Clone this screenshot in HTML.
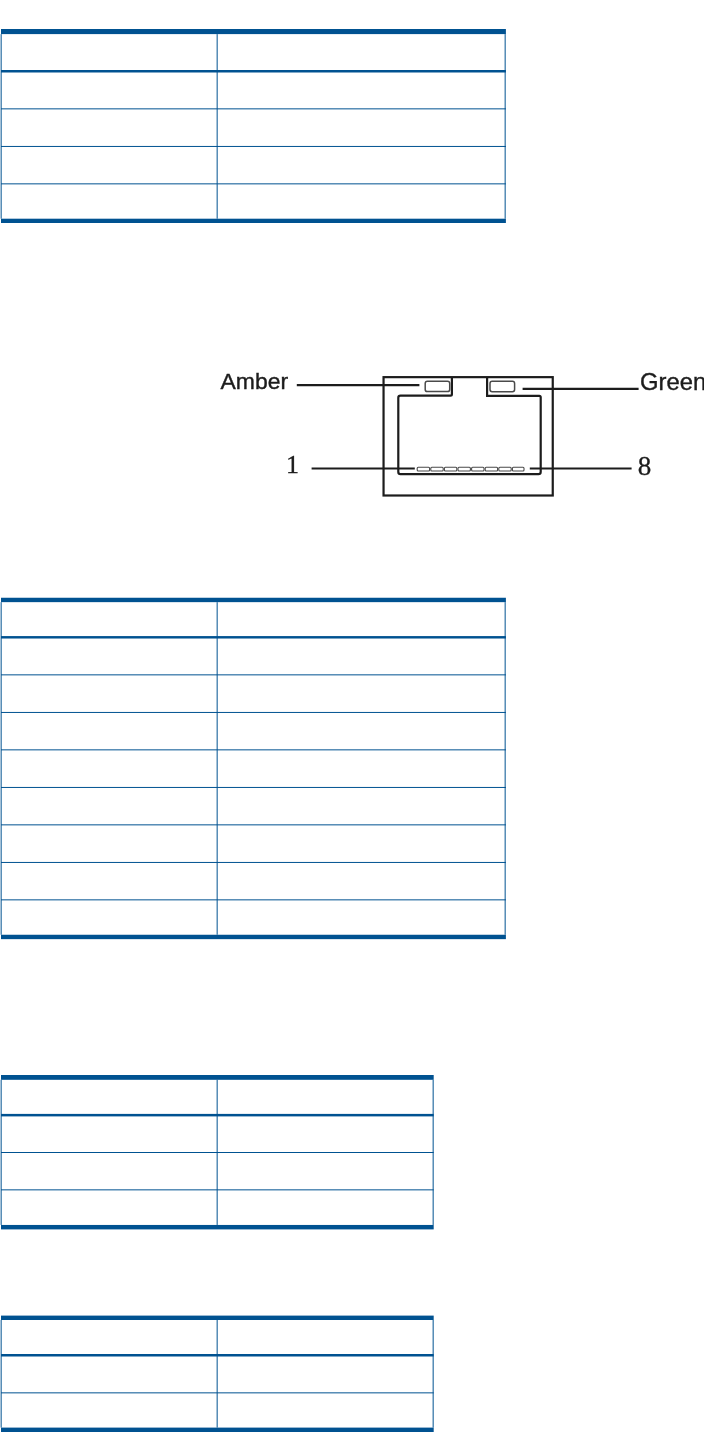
<!DOCTYPE html>
<html><head><meta charset="utf-8"><title>Page</title>
<style>
html,body{margin:0;padding:0;background:#fff;}
body{width:704px;height:1433px;overflow:hidden;font-family:"Liberation Sans",sans-serif;}
svg{display:block;}
</style></head>
<body>
<svg width="704" height="1433" viewBox="0 0 704 1433">
<rect x="1.0" y="29.0" width="504.9" height="5.1" fill="#005291"/>
<rect x="1.0" y="70.0" width="504.9" height="2.5" fill="#005291"/>
<rect x="1.0" y="108.35" width="504.9" height="1.0" fill="#005291"/>
<rect x="1.0" y="145.95" width="504.9" height="1.0" fill="#005291"/>
<rect x="1.0" y="183.35" width="504.9" height="1.0" fill="#005291"/>
<rect x="1.0" y="218.7" width="504.9" height="4.3" fill="#005291"/>
<rect x="0.65" y="34.1" width="1.0" height="184.6" fill="#005291"/>
<rect x="216.65" y="34.1" width="1.0" height="184.6" fill="#005291"/>
<rect x="504.65" y="34.1" width="1.0" height="184.6" fill="#005291"/>
<rect x="1.0" y="597.75" width="504.9" height="4.4" fill="#005291"/>
<rect x="1.0" y="636.075" width="504.9" height="2.45" fill="#005291"/>
<rect x="1.0" y="674.35" width="504.9" height="1.0" fill="#005291"/>
<rect x="1.0" y="711.95" width="504.9" height="1.0" fill="#005291"/>
<rect x="1.0" y="749.35" width="504.9" height="1.0" fill="#005291"/>
<rect x="1.0" y="786.95" width="504.9" height="1.0" fill="#005291"/>
<rect x="1.0" y="824.35" width="504.9" height="1.0" fill="#005291"/>
<rect x="1.0" y="861.95" width="504.9" height="1.0" fill="#005291"/>
<rect x="1.0" y="899.35" width="504.9" height="1.0" fill="#005291"/>
<rect x="1.0" y="934.75" width="504.9" height="4.4" fill="#005291"/>
<rect x="0.65" y="602.15" width="1.0" height="332.6" fill="#005291"/>
<rect x="216.65" y="602.15" width="1.0" height="332.6" fill="#005291"/>
<rect x="504.65" y="602.15" width="1.0" height="332.6" fill="#005291"/>
<rect x="1.0" y="1075.0" width="432.7" height="4.8" fill="#005291"/>
<rect x="1.0" y="1113.9" width="432.7" height="2.5" fill="#005291"/>
<rect x="1.0" y="1152.0" width="432.7" height="1.0" fill="#005291"/>
<rect x="1.0" y="1189.35" width="432.7" height="1.0" fill="#005291"/>
<rect x="1.0" y="1224.95" width="432.7" height="4.45" fill="#005291"/>
<rect x="0.65" y="1079.8" width="1.0" height="145.15" fill="#005291"/>
<rect x="216.65" y="1079.8" width="1.0" height="145.15" fill="#005291"/>
<rect x="432.65" y="1079.8" width="1.0" height="145.15" fill="#005291"/>
<rect x="1.0" y="1315.6" width="432.7" height="4.4" fill="#005291"/>
<rect x="1.0" y="1354.0" width="432.7" height="2.5" fill="#005291"/>
<rect x="1.0" y="1392.35" width="432.7" height="1.0" fill="#005291"/>
<rect x="1.0" y="1427.6" width="432.7" height="4.4" fill="#005291"/>
<rect x="0.65" y="1320.0" width="1.0" height="107.6" fill="#005291"/>
<rect x="216.65" y="1320.0" width="1.0" height="107.6" fill="#005291"/>
<rect x="432.65" y="1320.0" width="1.0" height="107.6" fill="#005291"/>
<rect x="383.55" y="377.15" width="169.2" height="118.35000000000002" fill="none" stroke="#1c1c1c" stroke-width="2.2"/>
<path d="M451.9 377 L451.9 394.2 Q451.9 395.6 450.5 395.6 L400.5 395.6 Q398.3 395.6 398.3 397.8 L398.3 472.0 Q398.3 474.2 400.5 474.2 L538.5 474.2 Q540.7 474.2 540.7 472.0 L540.7 397.2 Q540.7 395.8 539.3 395.8 L487.1 395.8 L487.1 377" fill="none" stroke="#1c1c1c" stroke-width="2.2"/>
<rect x="425.2" y="381.2" width="24.5" height="10.4" rx="2.2" fill="none" stroke="#4a4a4a" stroke-width="1.5"/>
<rect x="490.0" y="381.25" width="24.6" height="10.45" rx="2.2" fill="none" stroke="#4a4a4a" stroke-width="1.5"/>
<rect x="417.2" y="467.25" width="12.4" height="3.7" rx="1" fill="none" stroke="#4a4a4a" stroke-width="1.1"/>
<rect x="430.8" y="467.25" width="12.4" height="3.7" rx="1" fill="none" stroke="#4a4a4a" stroke-width="1.1"/>
<rect x="444.4" y="467.25" width="12.4" height="3.7" rx="1" fill="none" stroke="#4a4a4a" stroke-width="1.1"/>
<rect x="458.0" y="467.25" width="12.4" height="3.7" rx="1" fill="none" stroke="#4a4a4a" stroke-width="1.1"/>
<rect x="471.6" y="467.25" width="12.4" height="3.7" rx="1" fill="none" stroke="#4a4a4a" stroke-width="1.1"/>
<rect x="485.2" y="467.25" width="12.4" height="3.7" rx="1" fill="none" stroke="#4a4a4a" stroke-width="1.1"/>
<rect x="498.8" y="467.25" width="12.4" height="3.7" rx="1" fill="none" stroke="#4a4a4a" stroke-width="1.1"/>
<rect x="512.4" y="467.25" width="11.6" height="3.7" rx="1" fill="none" stroke="#4a4a4a" stroke-width="1.1"/>
<line x1="296.8" y1="385.2" x2="419.4" y2="385.2" stroke="#1c1c1c" stroke-width="2.2" stroke-linecap="butt"/>
<line x1="522.6" y1="388.8" x2="638.6" y2="388.8" stroke="#1c1c1c" stroke-width="2.2" stroke-linecap="butt"/>
<line x1="311.6" y1="468.5" x2="414.8" y2="468.5" stroke="#1c1c1c" stroke-width="2.2" stroke-linecap="butt"/>
<line x1="529.8" y1="468.5" x2="631.6" y2="468.5" stroke="#1c1c1c" stroke-width="2.2" stroke-linecap="butt"/>
<g style="will-change:transform">
<text x="220.5" y="389.4" font-family="Liberation Sans" font-size="22.95" fill="#1c1c1c" stroke="#1c1c1c" stroke-width="0.4">Amber</text>
<text x="640.0" y="389.6" font-family="Liberation Sans" font-size="23.8" fill="#1c1c1c" stroke="#1c1c1c" stroke-width="0.4">Green</text>
<text x="286.1" y="473.2" font-family="Liberation Serif" font-size="26" fill="#1c1c1c" stroke="#1c1c1c" stroke-width="0.3">1</text>
<text x="637.8" y="475.2" font-family="Liberation Serif" font-size="27.1" fill="#1c1c1c" stroke="#1c1c1c" stroke-width="0.3">8</text>
</g>
</svg>
</body></html>
